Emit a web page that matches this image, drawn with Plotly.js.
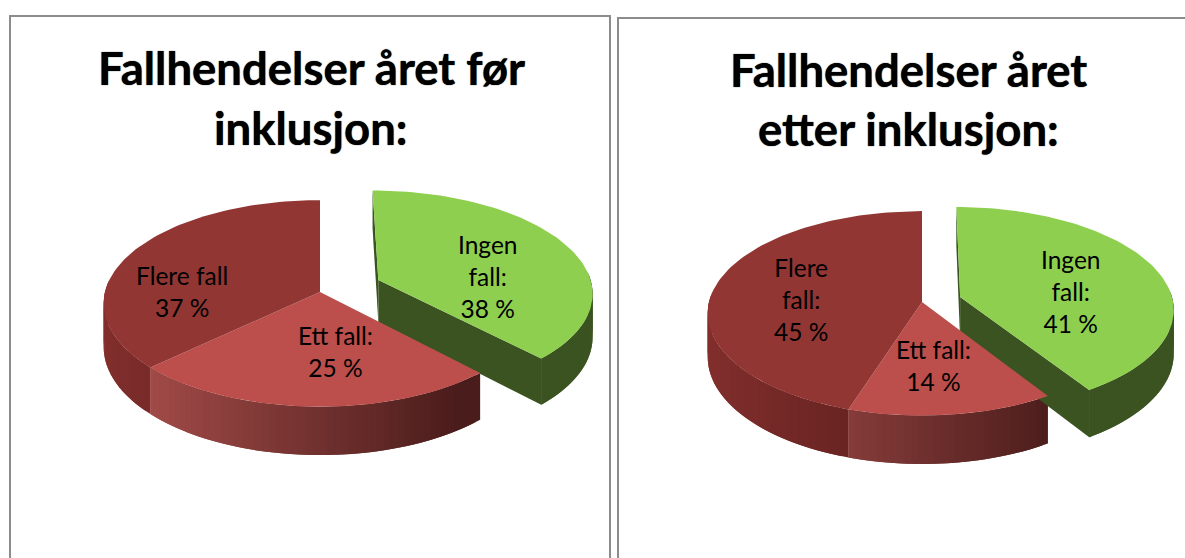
<!DOCTYPE html>
<html><head><meta charset="utf-8">
<script src="https://cdn.plot.ly/plotly-3.0.1.min.js"></script>
<style>html,body{margin:0;padding:0;background:#fff;overflow:hidden}</style>
</head><body><div id="chart" style="width:1185px;height:558px"></div>
<script>
// DATA
const categories = ["Ingen fall", "Ett fall", "Flere fall"];
const valuesBefore = [38, 25, 37];
const valuesAfter = [41, 14, 45];
const titleBefore = ["Fallhendelser året før", "inklusjon:"];
const titleAfter = ["Fallhendelser året", "etter inklusjon:"];
const labelsBefore = ["Ingen<br>fall:<br>38 %", "Ett fall:<br>25 %", "Flere fall<br>37 %"];
const labelsAfter = ["Ingen<br>fall:<br>41 %", "Ett fall:<br>14 %", "Flere<br>fall:<br>45 %"];

const topColors = ["#8FCF50", "#BC4E4B", "#923634"];
const FONT = "Lato, Carlito, sans-serif";
const P = 0.111, DEPTH = 43;

function hex(c){return [1,3,5].map(i=>parseInt(c.substr(i,2),16));}
function mix(a,b,t){t=Math.max(0,Math.min(1,t));const A=hex(a),B=hex(b);
  return "rgb("+A.map((v,i)=>Math.round(v+(B[i]-v)*t)).join(",")+")";}

function buildPie(values, g){
  const out=[];
  const project=(X,Y,dz)=>{ // Y>0 = back of the disc
    const s=1/(1+P*Y);
    return [g.cx+g.rx*X*s, g.cy-g.ry*Y*s+(dz?DEPTH*s:0)];
  };
  const total=values.reduce((a,b)=>a+b,0);
  let acc=0;
  const slices=values.map((v,i)=>{
    const a0=acc/total*2*Math.PI; acc+=v; const a1=acc/total*2*Math.PI;
    const ex=i===0?g.ex:0, ey=i===0?g.ey:0;
    const pt=(a,dz)=>project(ex+Math.sin(a),ey+Math.cos(a),dz);
    return {i,a0,a1,ex,ey,pt,apex:dz=>project(ex,ey,dz)};
  });
  const poly=(pts,color)=>out.push({type:"scatter",mode:"lines",fill:"toself",fillcolor:color,
    x:pts.map(p=>p[0]),y:pts.map(p=>p[1]),line:{width:0},hoverinfo:"skip",showlegend:false});
  const sideColor=(i,X)=>{
    if(i===0) return "#3B5320";
    if(i===1) return mix("#A04A47","#4A1C1B",(X+0.72)/1.3);
    return mix("#822F2D","#692422",(X+1)/0.7);
  };
  // rim sides, back-to-front: Flere, Ett, then the exploded Ingen
  [slices[2],slices[1],slices[0]].forEach(sl=>{
    const N=Math.max(8,Math.round((sl.a1-sl.a0)/0.03));
    // strips overlap the next one, so no seams show
    for(let k=0;k<N;k++){
      const a=sl.a0+(sl.a1-sl.a0)*k/N, b=sl.a0+(sl.a1-sl.a0)*(k+1)/N;
      const b2=Math.min(sl.a1,b+0.03);
      const mid=(a+b)/2;
      if(Math.cos(mid)>0.08) continue; // only the front of the rim shows
      const pts=[];
      for(let j=0;j<=3;j++) pts.push(sl.pt(a+(b2-a)*j/3,false));
      for(let j=3;j>=0;j--) pts.push(sl.pt(a+(b2-a)*j/3,true));
      poly(pts,sideColor(sl.i,Math.sin(mid)));
    }
  });
  // cut faces of the exploded slice
  const green=slices[0];
  poly([green.apex(false),green.pt(green.a1,false),green.pt(green.a1,true),green.apex(true)],"#3B5320");
  poly([green.apex(false),green.pt(green.a0,false),green.pt(green.a0,true),green.apex(true)],"#3B5320");
  // top surfaces
  slices.forEach(sl=>{
    const pts=[sl.apex(false)];
    const N=Math.round((sl.a1-sl.a0)/0.03);
    for(let k=0;k<=N;k++) pts.push(sl.pt(sl.a0+(sl.a1-sl.a0)*k/N,false));
    pts.push(sl.apex(false));
    poly(pts,topColors[sl.i]);
  });
  return out;
}

const geomBefore={cx:320,cy:292,rx:215,ry:102,ex:0.275,ey:0.12};
const geomAfter={cx:922,cy:302,rx:213,ry:101,ex:0.18,ey:0.05};
const data=[...buildPie(valuesBefore,geomBefore),...buildPie(valuesAfter,geomAfter)];

const ann=(x,y,text,size,bold)=>({xref:"x",yref:"y",x,y,text:bold?"<b>"+text+"</b>":text,showarrow:false,
  xanchor:"center",yanchor:"middle",align:"center",
  font:{family:FONT,size,color:"#000",shadow:bold?"0 0 1px #000":"none"}});
const TS=45.5, LS=24.5;
const annotations=[
  ann(311,67,titleBefore[0],TS,true), ann(311,127,titleBefore[1],TS,true),
  ann(908,69,titleAfter[0],TS,true), ann(908,128,titleAfter[1],TS,true),
  ann(488,276,labelsBefore[0],LS), ann(335,351,labelsBefore[1],LS), ann(182,291,labelsBefore[2],LS),
  ann(1071,291,labelsAfter[0],LS), ann(933,365,labelsAfter[1],LS), ann(801,299,labelsAfter[2],LS)
];
const frame=(x0,x1,y0)=>({type:"path",xref:"x",yref:"y",
  path:`M${x0},558 L${x0},${y0} L${x1},${y0} L${x1},558`,line:{color:"#8C8C8C",width:2}});
const layout={width:1185,height:558,margin:{l:0,r:0,t:0,b:0},paper_bgcolor:"#fff",plot_bgcolor:"#fff",
  showlegend:false,hovermode:false,
  xaxis:{range:[0,1185],visible:false,fixedrange:true},
  yaxis:{range:[558,0],visible:false,fixedrange:true},
  shapes:[frame(10,610,16),frame(618,1192,18)],annotations};
Plotly.newPlot("chart",data,layout,{displayModeBar:false,staticPlot:true});
</script></body></html>
